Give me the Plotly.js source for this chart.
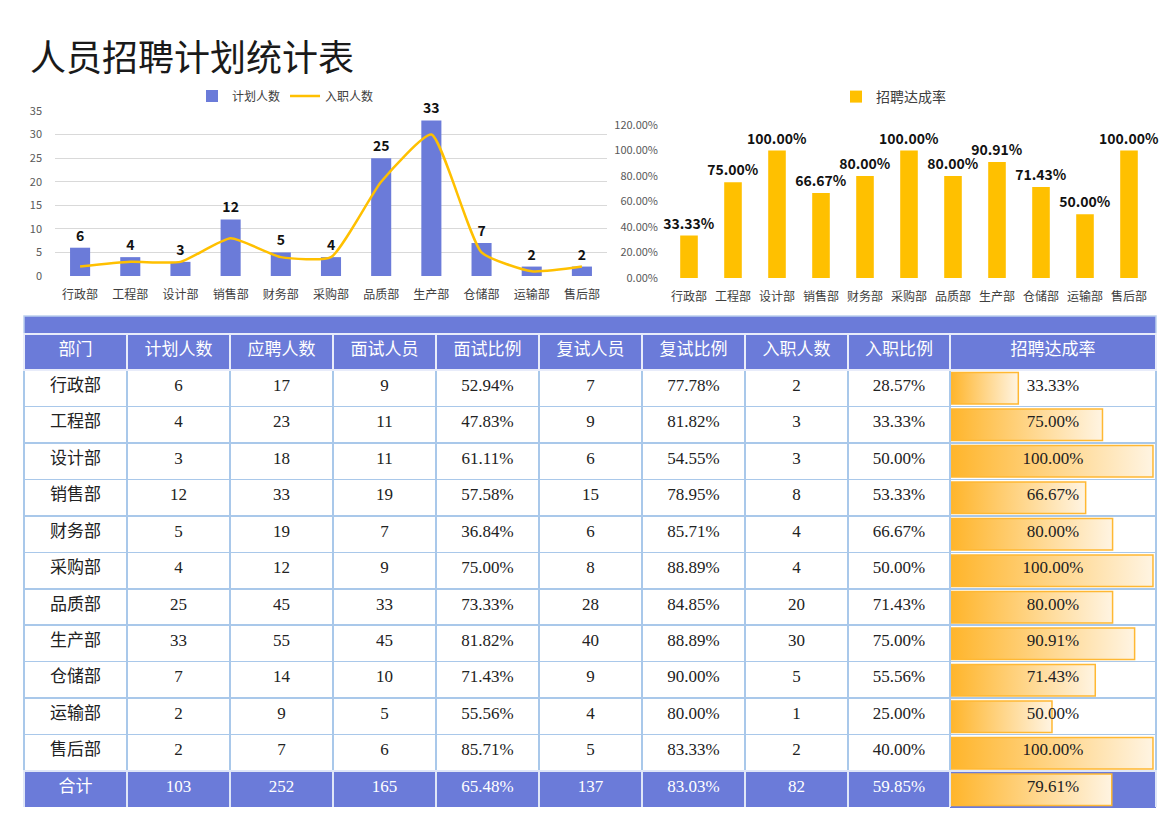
<!DOCTYPE html>
<html>
<head>
<meta charset="utf-8">
<script src="https://cdn.plot.ly/plotly-3.0.1.min.js"></script>
<style>
  html, body { margin: 0; padding: 0; background: #fff; }
  #chart { width: 1170px; height: 827px; }
</style>
</head>
<body>
<div id="chart"></div>
<script>
// 部门 and table columns
const depts         = ['行政部', '工程部', '设计部', '销售部', '财务部', '采购部', '品质部', '生产部', '仓储部', '运输部', '售后部']
const planned       = [6, 4, 3, 12, 5, 4, 25, 33, 7, 2, 2]
const applicants    = [17, 23, 18, 33, 19, 12, 45, 55, 14, 9, 7]
const interviewed   = [9, 11, 11, 19, 7, 9, 33, 45, 10, 5, 6]
const interviewRate = [52.94, 47.83, 61.11, 57.58, 36.84, 75.00, 73.33, 81.82, 71.43, 55.56, 85.71]
const secondRound   = [7, 9, 6, 15, 6, 8, 28, 40, 9, 4, 5]
const secondRate    = [77.78, 81.82, 54.55, 78.95, 85.71, 88.89, 84.85, 88.89, 90.00, 80.00, 83.33]
const hired         = [2, 3, 3, 8, 4, 4, 20, 30, 5, 1, 2]
const hireRate      = [28.57, 33.33, 50.00, 53.33, 66.67, 50.00, 71.43, 75.00, 55.56, 25.00, 40.00]
const achieveRate   = [33.33, 75.00, 100.00, 66.67, 80.00, 100.00, 80.00, 90.91, 71.43, 50.00, 100.00]

const totalRow      = ['合计', 103, 252, 165, 65.48, 137, 83.03, 82, 59.85, 79.61]
const headers       = ['部门', '计划人数', '应聘人数', '面试人员', '面试比例', '复试人员', '复试比例', '入职人数', '入职比例', '招聘达成率']

const blue   = '#6b7bd9'
const gold   = '#ffc000'
const border = '#a9c8ea'
const W = 1170, H = 827
const px = (x) => x / W
const py = (y) => 1 - y / H
const pct = (v) => v.toFixed(2) + '%'
const sans = "'Noto Sans CJK SC', 'Noto Sans', sans-serif"
const serif = "'Liberation Serif', 'Noto Sans CJK SC', serif"

// ---- left chart: 计划人数 bars + 入职人数 line
let plan_trace = {
    x: depts, y: planned,
    name: '计划人数', type: 'bar',
    xaxis: 'x', yaxis: 'y',
    marker: { color: blue },
    text: planned.map(String), textposition: 'outside', constraintext: 'none',
    textfont: { family: sans, size: 14, color: '#111', weight: 'bold' },
    cliponaxis: false,
    legend: 'legend'
}
let hired_trace = {
    x: depts, y: hired,
    name: '入职人数', type: 'scatter', mode: 'lines',
    xaxis: 'x', yaxis: 'y',
    line: { color: gold, width: 2.5, shape: 'spline', smoothing: 0.5 },
    legend: 'legend'
}

// ---- right chart: 招聘达成率 bars
let rate_trace = {
    x: depts, y: achieveRate.map(v => v / 100),
    name: '招聘达成率', type: 'bar',
    xaxis: 'x2', yaxis: 'y2',
    marker: { color: gold },
    text: achieveRate.map(pct), textposition: 'outside', constraintext: 'none',
    textfont: { family: sans, size: 14, color: '#111', weight: 'bold' },
    cliponaxis: false,
    legend: 'legend2'
}

// ---- table
const rows = depts.length + 1
const colValues = [
    [...depts, totalRow[0]],
    [...planned, totalRow[1]],
    [...applicants, totalRow[2]],
    [...interviewed, totalRow[3]],
    [...interviewRate.map(pct), pct(totalRow[4])],
    [...secondRound, totalRow[5]],
    [...secondRate.map(pct), pct(totalRow[6])],
    [...hired, totalRow[7]],
    [...hireRate.map(pct), pct(totalRow[8])],
    [...achieveRate.map(pct), pct(totalRow[9])]
]
const fillCol = (i) => Array.from({ length: rows }, (_, r) =>
    i === 9 ? 'rgba(0,0,0,0)' : (r === rows - 1 ? blue : '#ffffff'))
const fontCol = (i) => Array.from({ length: rows }, (_, r) =>
    (r === rows - 1 && i !== 9) ? '#ffffff' : '#222222')
const lineCol = (i) => Array.from({ length: rows }, (_, r) =>
    r === rows - 1 ? '#dfe6f7' : border)

let table_trace = {
    type: 'table',
    domain: { x: [px(24), px(1156)], y: [py(808), py(334)] },
    columnwidth: [103, 103, 103, 103, 103, 103, 103, 103, 102, 206],
    header: {
        values: headers,
        height: 36,
        align: 'center',
        fill: { color: blue },
        line: { color: '#e8ecfa', width: 1.5 },
        font: { family: sans, size: 17, color: '#ffffff' }
    },
    cells: {
        values: colValues,
        height: 36.46,
        align: 'center',
        fill: { color: colValues.map((_, i) => fillCol(i)) },
        line: { color: colValues.map((_, i) => lineCol(i)), width: 1.5 },
        font: { family: serif, size: 17, color: colValues.map((_, i) => fontCol(i)) }
    }
}

// ---- data bars in the 招聘达成率 column
const barRates = [...achieveRate, totalRow[9]]
let data_bars = barRates.map((v, i) => ({
    x: [0, v, v, 0, 0],
    y: [i - 0.43, i - 0.43, i + 0.43, i + 0.43, i - 0.43],
    type: 'scatter', mode: 'lines',
    fill: 'toself',
    fillgradient: { type: 'horizontal', colorscale: [[0, '#ffb52b'], [1, '#fff4e2']] },
    line: { color: '#ffb833', width: 1.5 },
    xaxis: 'x3', yaxis: 'y3',
    showlegend: false, hoverinfo: 'skip'
}))

const tickFont = { family: sans, size: 11, color: '#595959' }
const catFont  = { family: sans, size: 12, color: '#404040' }

const layout = {
    width: W, height: H,
    margin: { l: 0, r: 0, t: 0, b: 0 },
    paper_bgcolor: '#ffffff', plot_bgcolor: 'rgba(0,0,0,0)',
    bargap: 0.6,
    showlegend: true,
    legend: {
        orientation: 'h', x: px(192), y: py(96), xanchor: 'left', yanchor: 'middle',
        font: { family: sans, size: 12, color: '#404040' }, itemwidth: 30
    },
    legend2: {
        orientation: 'h', x: px(836), y: py(97), xanchor: 'left', yanchor: 'middle',
        font: { family: sans, size: 14, color: '#404040' }, itemwidth: 30
    },
    xaxis: {
        domain: [px(55), px(607)],
        tickfont: catFont, showgrid: false, zeroline: false, showline: false,
        ticks: '', ticklabelstandoff: 10, fixedrange: true
    },
    yaxis: {
        domain: [py(276), py(111)], range: [0, 35], dtick: 5,
        tickfont: tickFont, gridcolor: '#d9d9d9', zeroline: false,
        ticklabelstandoff: 12, fixedrange: true
    },
    xaxis2: {
        domain: [px(667), px(1151)], anchor: 'y2',
        tickfont: catFont, showgrid: false, zeroline: false, ticks: '',
        ticklabelstandoff: 10, fixedrange: true
    },
    yaxis2: {
        domain: [py(278), py(125)], range: [0, 1.2], dtick: 0.2, tickformat: '.2%',
        anchor: 'x2', tickfont: tickFont, showgrid: false, zeroline: false,
        ticklabelstandoff: 8, fixedrange: true
    },
    xaxis3: {
        domain: [px(951), px(1156)], range: [0, 101.5], anchor: 'y3',
        visible: false, fixedrange: true
    },
    yaxis3: {
        domain: [py(808), py(370)], range: [rows - 0.5, -0.5], anchor: 'x3',
        visible: false, fixedrange: true
    },
    shapes: [
        // blue band over the table
        { type: 'rect', xref: 'paper', yref: 'paper', layer: 'below',
          x0: px(24), x1: px(1156), y0: py(334), y1: py(316),
          fillcolor: blue, line: { color: '#bcd0ee', width: 1.5 } },
        // blue background for the 合计 row under its data bar
        { type: 'rect', xref: 'paper', yref: 'paper', layer: 'below',
          x0: px(950), x1: px(1156), y0: py(808), y1: py(772),
          fillcolor: blue, line: { width: 0 } }
    ],
    annotations: [
        { text: '人员招聘计划统计表', xref: 'paper', yref: 'paper',
          x: px(28), y: py(55), xanchor: 'left', yanchor: 'middle', showarrow: false,
          font: { family: sans, size: 36, color: '#1a1a1a' } }
    ]
}

var data = [ plan_trace, hired_trace, rate_trace, ...data_bars, table_trace ]

Plotly.newPlot('chart', data, layout, { displayModeBar: false, staticPlot: true })
</script>
</body>
</html>
